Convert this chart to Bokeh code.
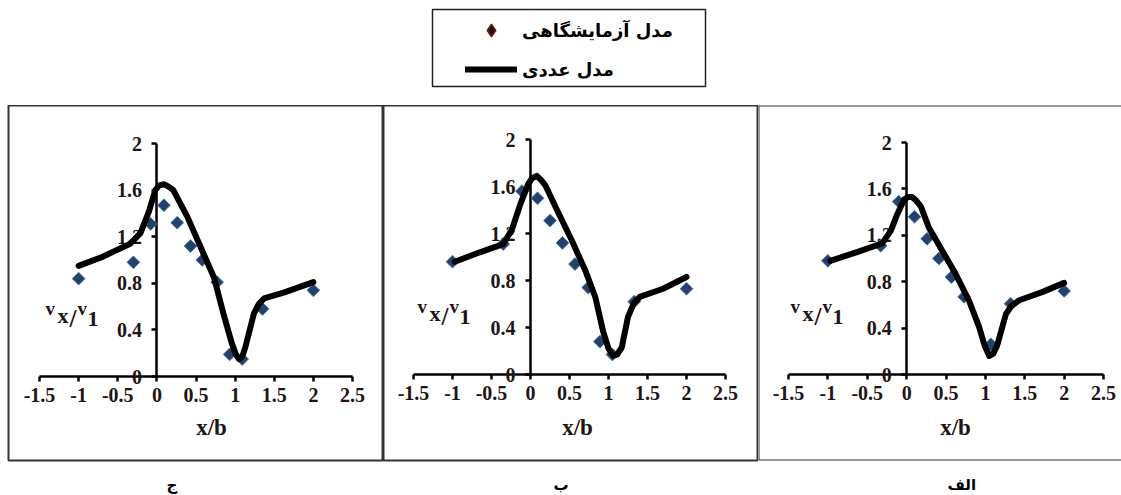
from bokeh.plotting import figure
from bokeh.models import Range1d, FixedTicker, Label, Span, Legend, LegendItem, Title
from bokeh.layouts import column, row
from bokeh.embed import file_html
from bokeh.resources import INLINE

# ---------------- data ----------------
X_TICKS = [-1.5, -1, -0.5, 0, 0.5, 1, 1.5, 2, 2.5]
X_TICK_LABELS = ["-1.5", "-1", "-0.5", "0", "0.5", "1", "1.5", "2", "2.5"]
Y_TICKS = [0, 0.4, 0.8, 1.2, 1.6, 2]
Y_TICK_LABELS = ["0", "0.4", "0.8", "1.2", "1.6", "2"]

LEGEND_EXP = "مدل آزمایشگاهی"
LEGEND_NUM = "مدل عددی"
X_LABEL = "x/b"
PANEL_NAMES = ["ج", "ب", "الف"]

# panel ج (left)
jim_exp_x = [-1.0, -0.3, -0.08, 0.09, 0.26, 0.43, 0.58, 0.77, 0.93, 1.09, 1.35, 2.0]
jim_exp_y = [0.84, 0.98, 1.31, 1.47, 1.32, 1.12, 1.00, 0.81, 0.19, 0.15, 0.58, 0.74]
jim_num_x = [-1.0, -0.72, -0.34, -0.21, -0.10, -0.02, 0.03, 0.09, 0.15, 0.21, 0.39, 0.56,
             0.73, 0.85, 0.96, 1.01, 1.05, 1.09, 1.13, 1.24, 1.30, 1.37, 1.62, 2.0]
jim_num_y = [0.95, 1.02, 1.14, 1.23, 1.42, 1.60, 1.64, 1.65, 1.63, 1.60, 1.37, 1.11,
             0.85, 0.54, 0.28, 0.19, 0.15, 0.17, 0.25, 0.54, 0.62, 0.67, 0.72, 0.81]

# panel ب (middle)
be_exp_x = [-1.0, -0.35, -0.11, 0.09, 0.25, 0.41, 0.57, 0.74, 0.89, 1.05, 1.33, 2.0]
be_exp_y = [0.96, 1.11, 1.56, 1.50, 1.31, 1.12, 0.94, 0.74, 0.28, 0.17, 0.62, 0.73]
be_num_x = [-0.97, -0.65, -0.35, -0.24, -0.13, -0.03, 0.02, 0.08, 0.13, 0.19, 0.34, 0.53,
            0.70, 0.83, 0.93, 1.00, 1.06, 1.11, 1.17, 1.25, 1.32, 1.40, 1.70, 2.0]
be_num_y = [0.96, 1.04, 1.11, 1.23, 1.45, 1.62, 1.67, 1.69, 1.66, 1.61, 1.40, 1.14,
            0.89, 0.66, 0.37, 0.22, 0.16, 0.17, 0.23, 0.49, 0.60, 0.66, 0.73, 0.83]

# panel الف (right)
alef_exp_x = [-1.0, -0.33, -0.10, 0.10, 0.26, 0.41, 0.57, 0.73, 1.07, 1.32, 2.0]
alef_exp_y = [0.98, 1.11, 1.49, 1.36, 1.17, 1.00, 0.84, 0.67, 0.26, 0.61, 0.72]
alef_num_x = [-0.97, -0.65, -0.31, -0.20, -0.12, -0.03, 0.02, 0.07, 0.12, 0.18, 0.28, 0.45,
              0.62, 0.79, 0.92, 0.99, 1.05, 1.10, 1.15, 1.26, 1.33, 1.43, 1.72, 2.0]
alef_num_y = [0.98, 1.05, 1.13, 1.24, 1.38, 1.51, 1.53, 1.53, 1.50, 1.45, 1.27, 1.07,
              0.87, 0.64, 0.41, 0.25, 0.16, 0.18, 0.25, 0.52, 0.59, 0.64, 0.71, 0.79]

SERIES = [
    (jim_exp_x, jim_exp_y, jim_num_x, jim_num_y),
    (be_exp_x, be_exp_y, be_num_x, be_num_y),
    (alef_exp_x, alef_exp_y, alef_num_x, alef_num_y),
]

# ---------------- layout (page pixels) ----------------
PAGE_W = 1121
TOP_H = 105
BOX_TOP, BOX_BOTTOM = 105, 460
PAGE_H = 495
GEOM = [  # fig left, box_l, box_r, axis -1.5 px, axis 2.5 px, y=0 px, y=2 px, ylabel start, xlabel center, name left
    dict(fl=0, bl=8, br=383, al=39, ar=352, y0=376, y2=143, yl=45, xl=211, nm=166),
    dict(fl=383, bl=383, br=758, al=413, ar=725, y0=374, y2=139, yl=417, xl=577, nm=553),
    dict(fl=758, bl=758, br=1121, al=788, ar=1103, y0=374, y2=142, yl=790, xl=955, nm=947),
]

SERIF = "Liberation Serif"
ARABIC = "DejaVu Sans"
TXT = "#221414"
MARK_FILL = "#22426b"
MARK_LINE = "#4f74a0"
DIAMOND = 0.7853981633974483  # square marker turned 45 degrees


def make_panel(g, data, name, border_right=True):
    def sx(px):
        return -1.5 + (px - g["al"]) * 4.0 / (g["ar"] - g["al"])

    def sy(py):
        return (g["y0"] - py) * 2.0 / (g["y0"] - g["y2"])

    xr = Range1d(sx(g["bl"]), sx(g["br"]))
    yr = Range1d(sy(BOX_BOTTOM), sy(BOX_TOP))
    p = figure(width=g["br"] - g["fl"], height=PAGE_H - BOX_TOP, x_range=xr, y_range=yr,
               output_backend="svg", toolbar_location=None, min_border=0,
               min_border_left=g["bl"] - g["fl"], min_border_bottom=PAGE_H - BOX_BOTTOM)
    p.grid.visible = False
    p.background_fill_color = "white"
    p.border_fill_color = "white"

    for ax, ticks, labels in ((p.xaxis[0], X_TICKS, X_TICK_LABELS), (p.yaxis[0], Y_TICKS, Y_TICK_LABELS)):
        ax.fixed_location = 0
        ax.ticker = FixedTicker(ticks=ticks)
        ax.major_label_overrides = {t: l for t, l in zip(ticks, labels)}
        ax.axis_line_width = 2.5
        ax.axis_line_color = "black"
        ax.major_tick_line_width = 2.5
        ax.major_tick_line_color = "black"
        ax.major_tick_out = 5
        ax.major_tick_in = 0
        ax.minor_tick_line_color = None
        ax.major_label_text_font = SERIF
        ax.major_label_text_font_style = "bold"
        ax.major_label_text_font_size = "20px"
        ax.major_label_text_color = TXT
        ax.level = "underlay"
    p.xaxis[0].bounds = (X_TICKS[0], X_TICKS[-1])
    p.yaxis[0].bounds = (Y_TICKS[0], Y_TICKS[-1])
    p.xaxis[0].major_label_standoff = 6
    p.yaxis[0].major_label_standoff = 10

    ex, ey, nx, ny = data
    p.scatter(ex, ey, marker="square", angle=DIAMOND, size=9, fill_color=MARK_FILL,
              line_color=MARK_LINE, line_width=1)
    p.line(nx, ny, line_width=6, line_color="black", line_join="round", line_cap="round")

    if border_right:
        p.outline_line_color = "#333333"
        p.outline_line_width = 2
    else:
        p.outline_line_color = None
        for loc, dim in ((xr.start, "height"), (yr.start, "width"), (yr.end, "width")):
            p.add_layout(Span(location=loc, dimension=dim, line_color="#333333", line_width=2))

    # x axis label
    p.add_layout(Label(x=sx(g["xl"]), y=sy(427), text=X_LABEL, text_font=SERIF, text_font_style="bold",
                       text_font_size="23px", text_align="center", text_baseline="middle", text_color=TXT))
    # y axis label  v x / v 1
    base = g["y0"] - 61
    x0 = g["yl"]
    for dx, dy, t, fs in ((0, -7, "v", "19px"), (12, 0, "x", "22px"), (24, 3, "/", "25px"),
                          (32, -7, "v", "19px"), (42, 3, "1", "22px")):
        p.add_layout(Label(x=sx(x0 + dx), y=sy(base + dy), text=t, text_font=SERIF, text_font_style="bold",
                           text_font_size=fs, text_align="left", text_baseline="alphabetic", text_color=TXT))
    # empty spacer title, then the panel name below the box
    p.add_layout(Title(text=" ", standoff=0, text_font_size="10px"), "below")
    p.add_layout(Title(text=name, align="left", offset=g["nm"] - g["bl"], standoff=0,
                       text_font=ARABIC, text_font_style="bold", text_font_size="15px",
                       text_color="black"), "below")
    return p


panels = [make_panel(g, d, n, border_right=(i < 2))
          for i, (g, d, n) in enumerate(zip(GEOM, SERIES, PANEL_NAMES))]

# ---------------- legend figure ----------------
lg = figure(width=PAGE_W, height=TOP_H, x_range=Range1d(10, 11), y_range=Range1d(10, 11),
            x_axis_type=None, y_axis_type=None, output_backend="svg", toolbar_location=None,
            min_border_left=432, min_border_right=PAGE_W - 705, min_border_top=9, min_border_bottom=TOP_H - 86)
lg.grid.visible = False
lg.outline_line_color = "#222222"
lg.outline_line_width = 1.5
# legend renderers reuse the first panel's series (outside this figure's view)
r_exp = lg.scatter(jim_exp_x, jim_exp_y, marker="diamond", size=12, fill_color="#151515",
                   line_color="#7a1f1f", line_width=1.5)
r_num = lg.line(jim_num_x, jim_num_y, line_width=6, line_color="black", line_cap="round")
legend = Legend(items=[LegendItem(label=LEGEND_EXP, renderers=[r_exp]),
                       LegendItem(label=LEGEND_NUM, renderers=[r_num])],
                location=(33, 1), padding=0, margin=0, spacing=7,
                glyph_width=52, glyph_height=32, label_height=32, label_standoff=5,
                border_line_color=None, background_fill_alpha=0,
                label_text_font=ARABIC, label_text_font_style="bold", label_text_font_size="18px",
                label_text_color="black")
lg.add_layout(legend, "center")

layout = column(lg, row(*panels))
open("out.html", "w").write(file_html(layout, INLINE))
